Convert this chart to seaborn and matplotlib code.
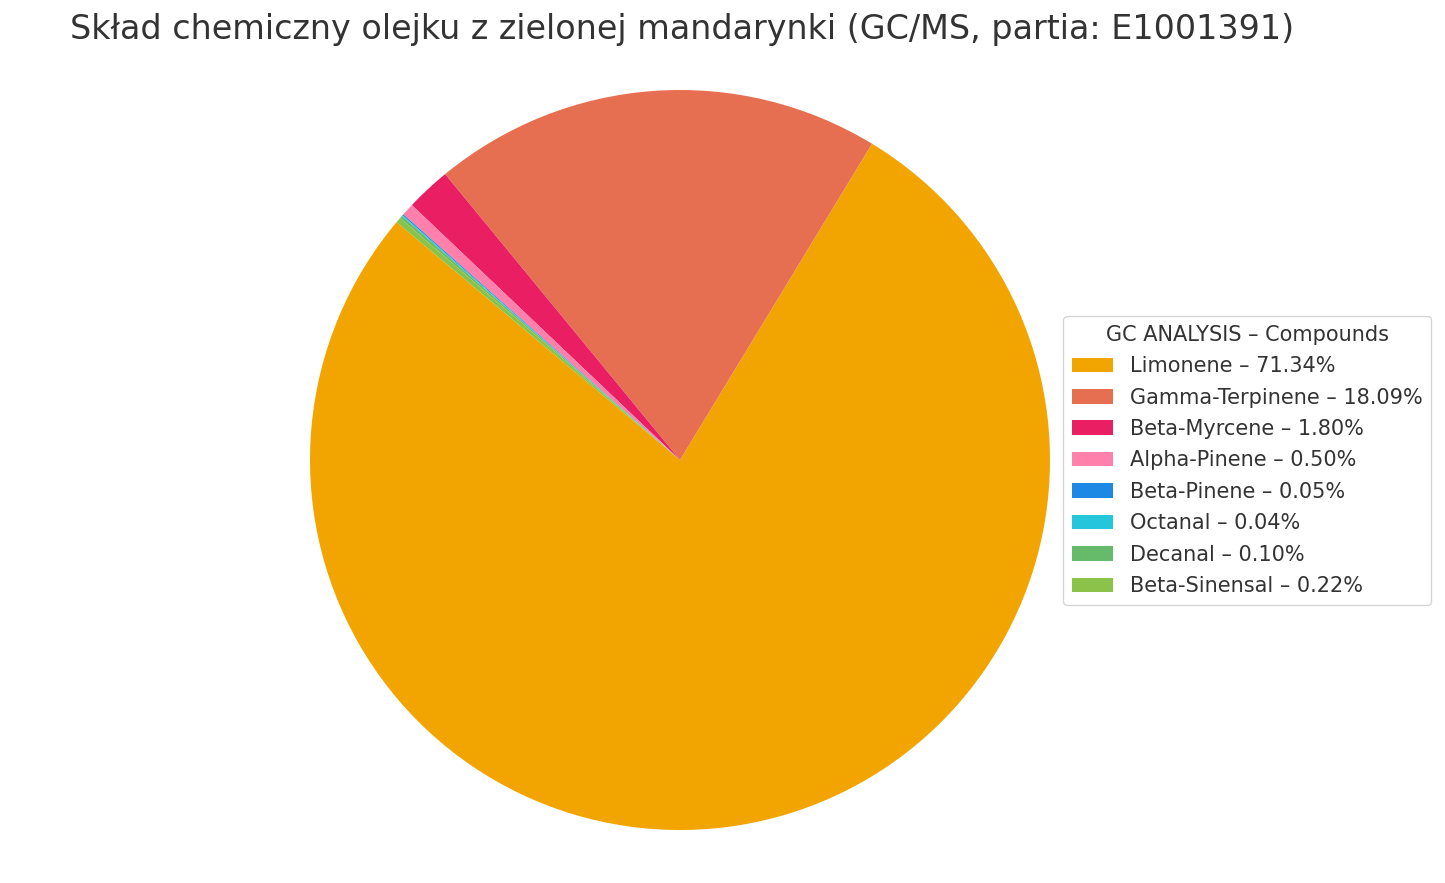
import matplotlib
matplotlib.use("Agg")
import matplotlib.pyplot as plt
import seaborn as sns

compounds = ["Limonene", "Gamma-Terpinene", "Beta-Myrcene", "Alpha-Pinene",
             "Beta-Pinene", "Octanal", "Decanal", "Beta-Sinensal"]
percent = [71.34, 18.09, 1.80, 0.50, 0.05, 0.04, 0.10, 0.22]
colors = ["#F2A500", "#E76F51", "#E91E63", "#FF80AB",
          "#1E88E5", "#26C6DA", "#66BB6A", "#8BC34A"]
title = "Skład chemiczny olejku z zielonej mandarynki (GC/MS, partia: E1001391)"
legend_title = "GC ANALYSIS – Compounds"

sns.set_theme(style="white")
plt.rcParams["font.family"] = ["DejaVu Sans"]
plt.rcParams["text.color"] = "#333333"

fig = plt.figure(figsize=(14.45, 8.83), dpi=100)
ax = fig.add_axes([(680 - 370) / 1445, (883 - 830) / 883, 740 / 1445, 740 / 883])
wedges, _ = ax.pie(percent, colors=colors, startangle=140, counterclock=True,
                   wedgeprops=dict(linewidth=0))
ax.set_aspect("equal")
ax.set_xlim(-1, 1)
ax.set_ylim(-1, 1)

labels = [f"{c} – {p:.2f}%" for c, p in zip(compounds, percent)]
leg = fig.legend(wedges, labels, title=legend_title, loc="center left",
                 bbox_to_anchor=(1053 / 1445, (883 - 460.5) / 883),
                 fontsize=15, title_fontsize=15, frameon=True, fancybox=True,
                 labelspacing=0.55)
leg.get_frame().set_edgecolor("#CCCCCC")

fig.text(70 / 1445, 1 - 30 / 883, title, fontsize=24, ha="left", va="center", color="#333333")

fig.savefig("out.png", dpi=100)
